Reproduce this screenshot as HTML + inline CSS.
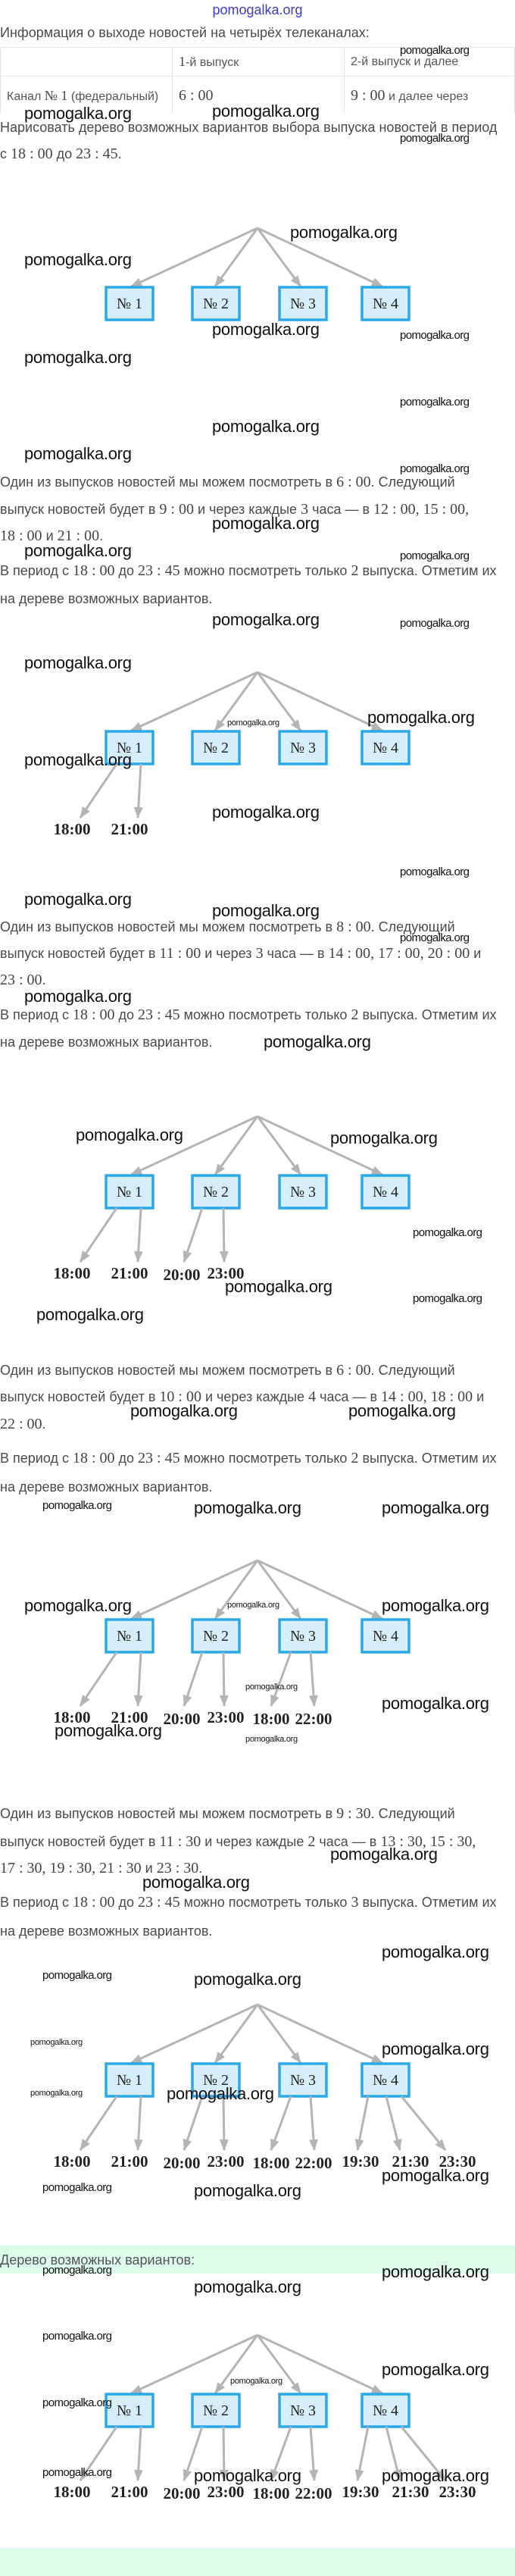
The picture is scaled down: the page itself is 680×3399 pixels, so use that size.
<!DOCTYPE html>
<html><head><meta charset="utf-8">
<style>
body{margin:0;width:680px;height:3399px;position:relative;background:#fff;overflow:hidden;font-family:"Liberation Sans",sans-serif}
.l{position:absolute;left:0;white-space:nowrap;height:24px;line-height:24px;font-size:18px;color:#4a4a4a}
.m{font-family:"Liberation Serif",serif;font-size:20px;color:#444}
.wl{position:absolute;white-space:nowrap;font-size:22px;line-height:26px;height:26px;color:#111;font-family:"Liberation Sans Narrow","Liberation Sans",sans-serif;letter-spacing:-0.3px}
.ws{position:absolute;white-space:nowrap;font-size:15px;line-height:18px;height:18px;color:#111;font-family:"Liberation Sans Narrow","Liberation Sans",sans-serif;letter-spacing:-0.6px}
.wt{position:absolute;white-space:nowrap;font-size:11px;line-height:14px;height:14px;color:#111;font-family:"Liberation Sans Narrow","Liberation Sans",sans-serif;letter-spacing:-0.3px}
table{position:absolute;left:0;top:62px;border-collapse:collapse;width:680px;font-size:16px;color:#555}
td{border:1px solid #e6e6e6;padding:0 8px;height:37px}
.green{position:absolute;left:0;width:680px;background:#dcfbe9}
svg{position:absolute;left:0;top:0}
</style></head><body>

<div style="position:absolute;left:0;width:680px;top:2px;text-align:center;color:#3a3ad0;font-size:18px;line-height:22px">pomogalka.org</div>

<div class="l" style="top:31px">Информация о выходе новостей на четырёх телеканалах:</div>
<div style="position:absolute;left:0;top:62px;width:680px;height:88px;overflow:hidden">
<table style="top:0">
<tr><td style="width:210px"></td><td style="width:210px"><span class="m" style="font-size:18px">1</span>-й выпуск</td><td>2-й выпуск и далее</td></tr>
<tr><td style="height:50px;vertical-align:top;padding-top:10px;line-height:30px">Канал <span class="m" style="font-size:18px">№ 1</span> (федеральный)</td><td style="height:50px;vertical-align:top;padding-top:10px;line-height:30px"><span class="m">6 : 00</span></td><td style="height:50px;vertical-align:top;padding-top:10px;line-height:30px"><span class="m">9 : 00</span> и далее через<br>каждые 3 часа</td></tr>
</table></div>

<div class="l" style="top:156px">Нарисовать дерево возможных вариантов выбора выпуска новостей в период</div>
<div class="l" style="top:191px">с <span class="m">18 : 00</span> до <span class="m">23 : 45</span>.</div>

<div class="l" style="top:624px">Один из выпусков новостей мы можем посмотреть в <span class="m">6 : 00</span>. Следующий</div>
<div class="l" style="top:660px">выпуск новостей будет в <span class="m">9 : 00</span> и через каждые <span class="m">3</span> часа — в <span class="m">12 : 00, 15 : 00,</span></div>
<div class="l" style="top:695px"><span class="m">18 : 00</span> и <span class="m">21 : 00</span>.</div>
<div class="l" style="top:741px">В период с <span class="m">18 : 00</span> до <span class="m">23 : 45</span> можно посмотреть только <span class="m">2</span> выпуска. Отметим их</div>
<div class="l" style="top:778px">на дереве возможных вариантов.</div>

<div class="l" style="top:1211px">Один из выпусков новостей мы можем посмотреть в <span class="m">8 : 00</span>. Следующий</div>
<div class="l" style="top:1246px">выпуск новостей будет в <span class="m">11 : 00</span> и через <span class="m">3</span> часа — в <span class="m">14 : 00, 17 : 00, 20 : 00</span> и</div>
<div class="l" style="top:1281px"><span class="m">23 : 00</span>.</div>
<div class="l" style="top:1327px">В период с <span class="m">18 : 00</span> до <span class="m">23 : 45</span> можно посмотреть только <span class="m">2</span> выпуска. Отметим их</div>
<div class="l" style="top:1363px">на дереве возможных вариантов.</div>

<div class="l" style="top:1796px">Один из выпусков новостей мы можем посмотреть в <span class="m">6 : 00</span>. Следующий</div>
<div class="l" style="top:1831px">выпуск новостей будет в <span class="m">10 : 00</span> и через каждые <span class="m">4</span> часа — в <span class="m">14 : 00, 18 : 00</span> и</div>
<div class="l" style="top:1867px"><span class="m">22 : 00</span>.</div>
<div class="l" style="top:1912px">В период с <span class="m">18 : 00</span> до <span class="m">23 : 45</span> можно посмотреть только <span class="m">2</span> выпуска. Отметим их</div>
<div class="l" style="top:1950px">на дереве возможных вариантов.</div>

<div class="l" style="top:2381px">Один из выпусков новостей мы можем посмотреть в <span class="m">9 : 30</span>. Следующий</div>
<div class="l" style="top:2418px">выпуск новостей будет в <span class="m">11 : 30</span> и через каждые <span class="m">2</span> часа — в <span class="m">13 : 30, 15 : 30,</span></div>
<div class="l" style="top:2453px"><span class="m">17 : 30, 19 : 30, 21 : 30</span> и <span class="m">23 : 30</span>.</div>
<div class="l" style="top:2498px">В период с <span class="m">18 : 00</span> до <span class="m">23 : 45</span> можно посмотреть только <span class="m">3</span> выпуска. Отметим их</div>
<div class="l" style="top:2536px">на дереве возможных вариантов.</div>

<div class="green" style="top:2963px;height:37px"></div>
<div class="l" style="top:2970px;color:#555">Дерево возможных вариантов:</div>
<div class="green" style="top:3362px;height:37px"></div>

<svg width="680" height="3399" viewBox="0 0 680 3399">
<defs>
<marker id="a" markerUnits="userSpaceOnUse" markerWidth="16" markerHeight="12" refX="14" refY="6" orient="auto"><path d="M0,0 L15,6 L0,12 z" fill="#b4b4b4"/></marker>
<g id="root">
<g stroke="#b4b4b4" stroke-width="3" marker-end="url(#a)">
<line x1="340" y1="0" x2="173" y2="77"/><line x1="340" y1="0" x2="284" y2="77"/>
<line x1="340" y1="0" x2="397" y2="77"/><line x1="340" y1="0" x2="505" y2="77"/>
</g>
<g fill="#d6eefa" stroke="#2aa9e6" stroke-width="3.5">
<rect x="140" y="78" width="62" height="43"/><rect x="254" y="78" width="62" height="43"/>
<rect x="369" y="78" width="62" height="43"/><rect x="478" y="78" width="62" height="43"/>
</g>
<g font-family="Liberation Serif,serif" font-size="20" fill="#222" text-anchor="middle">
<text x="171" y="106">№ 1</text><text x="285" y="106">№ 2</text><text x="400" y="106">№ 3</text><text x="509" y="106">№ 4</text>
</g>
</g>
<g id="b1"><g stroke="#b4b4b4" stroke-width="3" marker-end="url(#a)"><line x1="154" y1="121" x2="106" y2="192"/><line x1="186" y1="121" x2="182" y2="192"/></g>
<g font-family="Liberation Serif,serif" font-weight="bold" font-size="21" fill="#222" text-anchor="middle"><text x="95" y="214">18:00</text><text x="171" y="214">21:00</text></g></g>
<g id="b2"><g stroke="#b4b4b4" stroke-width="3" marker-end="url(#a)"><line x1="267" y1="121" x2="243" y2="192"/><line x1="295" y1="121" x2="296" y2="192"/></g>
<g font-family="Liberation Serif,serif" font-weight="bold" font-size="21" fill="#222" text-anchor="middle"><text x="240" y="216">20:00</text><text x="298" y="214">23:00</text></g></g>
<g id="b3"><g stroke="#b4b4b4" stroke-width="3" marker-end="url(#a)"><line x1="384" y1="121" x2="358" y2="192"/><line x1="410" y1="121" x2="415" y2="192"/></g>
<g font-family="Liberation Serif,serif" font-weight="bold" font-size="21" fill="#222" text-anchor="middle"><text x="358" y="216">18:00</text><text x="414" y="216">22:00</text></g></g>
<g id="b4"><g stroke="#b4b4b4" stroke-width="3" marker-end="url(#a)"><line x1="486" y1="121" x2="472" y2="192"/><line x1="510" y1="121" x2="528" y2="192"/><line x1="530" y1="121" x2="588" y2="192"/></g>
<g font-family="Liberation Serif,serif" font-weight="bold" font-size="21" fill="#222" text-anchor="middle"><text x="476" y="214">19:30</text><text x="542" y="214">21:30</text><text x="604" y="214">23:30</text></g></g>
</defs>
<g transform="translate(0,301)"><use href="#root"/></g>
<g transform="translate(0,887)"><use href="#root"/><use href="#b1"/></g>
<g transform="translate(0,1473)"><use href="#root"/><use href="#b1"/><use href="#b2"/></g>
<g transform="translate(0,2059)"><use href="#root"/><use href="#b1"/><use href="#b2"/><use href="#b3"/></g>
<g transform="translate(0,2645)"><use href="#root"/><use href="#b1"/><use href="#b2"/><use href="#b3"/><use href="#b4"/></g>
<g transform="translate(0,3081)"><use href="#root"/><use href="#b1"/><use href="#b2"/><use href="#b3"/><use href="#b4"/></g>
</svg>

<div class="wl" style="left:32px;top:137px">pomogalka.org</div>
<div class="wl" style="left:280px;top:134px">pomogalka.org</div>
<div class="ws" style="left:528px;top:58px">pomogalka.org</div>
<div class="ws" style="left:528px;top:174px">pomogalka.org</div>
<div class="wl" style="left:383px;top:294px">pomogalka.org</div>
<div class="wl" style="left:32px;top:330px">pomogalka.org</div>
<div class="wl" style="left:280px;top:422px">pomogalka.org</div>
<div class="ws" style="left:528px;top:434px">pomogalka.org</div>
<div class="wl" style="left:32px;top:459px">pomogalka.org</div>
<div class="ws" style="left:528px;top:522px">pomogalka.org</div>
<div class="wl" style="left:280px;top:550px">pomogalka.org</div>
<div class="wl" style="left:32px;top:586px">pomogalka.org</div>
<div class="ws" style="left:528px;top:610px">pomogalka.org</div>
<div class="wl" style="left:280px;top:678px">pomogalka.org</div>
<div class="wl" style="left:32px;top:714px">pomogalka.org</div>
<div class="ws" style="left:528px;top:725px">pomogalka.org</div>
<div class="wl" style="left:280px;top:805px">pomogalka.org</div>
<div class="ws" style="left:528px;top:814px">pomogalka.org</div>
<div class="wl" style="left:32px;top:862px">pomogalka.org</div>
<div class="wl" style="left:485px;top:934px">pomogalka.org</div>
<div class="wt" style="left:300px;top:947px">pomogalka.org</div>
<div class="wl" style="left:32px;top:990px">pomogalka.org</div>
<div class="wl" style="left:280px;top:1059px">pomogalka.org</div>
<div class="ws" style="left:528px;top:1142px">pomogalka.org</div>
<div class="wl" style="left:32px;top:1174px">pomogalka.org</div>
<div class="wl" style="left:280px;top:1189px">pomogalka.org</div>
<div class="ws" style="left:528px;top:1229px">pomogalka.org</div>
<div class="wl" style="left:32px;top:1302px">pomogalka.org</div>
<div class="wl" style="left:348px;top:1362px">pomogalka.org</div>
<div class="wl" style="left:100px;top:1485px">pomogalka.org</div>
<div class="wl" style="left:436px;top:1489px">pomogalka.org</div>
<div class="ws" style="left:545px;top:1618px">pomogalka.org</div>
<div class="wl" style="left:297px;top:1685px">pomogalka.org</div>
<div class="ws" style="left:545px;top:1705px">pomogalka.org</div>
<div class="wl" style="left:48px;top:1722px">pomogalka.org</div>
<div class="wl" style="left:172px;top:1849px">pomogalka.org</div>
<div class="wl" style="left:460px;top:1849px">pomogalka.org</div>
<div class="ws" style="left:56px;top:1978px">pomogalka.org</div>
<div class="wl" style="left:256px;top:1977px">pomogalka.org</div>
<div class="wl" style="left:504px;top:1977px">pomogalka.org</div>
<div class="wl" style="left:32px;top:2106px">pomogalka.org</div>
<div class="wt" style="left:300px;top:2111px">pomogalka.org</div>
<div class="wl" style="left:504px;top:2106px">pomogalka.org</div>
<div class="wt" style="left:324px;top:2219px">pomogalka.org</div>
<div class="wl" style="left:504px;top:2235px">pomogalka.org</div>
<div class="wl" style="left:72px;top:2271px">pomogalka.org</div>
<div class="wt" style="left:324px;top:2288px">pomogalka.org</div>
<div class="wl" style="left:436px;top:2434px">pomogalka.org</div>
<div class="wl" style="left:188px;top:2471px">pomogalka.org</div>
<div class="wl" style="left:504px;top:2563px">pomogalka.org</div>
<div class="ws" style="left:56px;top:2598px">pomogalka.org</div>
<div class="wl" style="left:256px;top:2599px">pomogalka.org</div>
<div class="wt" style="left:40px;top:2688px">pomogalka.org</div>
<div class="wl" style="left:504px;top:2691px">pomogalka.org</div>
<div class="wl" style="left:220px;top:2750px">pomogalka.org</div>
<div class="wt" style="left:40px;top:2755px">pomogalka.org</div>
<div class="wl" style="left:504px;top:2858px">pomogalka.org</div>
<div class="ws" style="left:56px;top:2878px">pomogalka.org</div>
<div class="wl" style="left:256px;top:2878px">pomogalka.org</div>
<div class="ws" style="left:56px;top:2987px">pomogalka.org</div>
<div class="wl" style="left:504px;top:2985px">pomogalka.org</div>
<div class="wl" style="left:256px;top:3005px">pomogalka.org</div>
<div class="ws" style="left:56px;top:3074px">pomogalka.org</div>
<div class="wl" style="left:504px;top:3114px">pomogalka.org</div>
<div class="wt" style="left:304px;top:3135px">pomogalka.org</div>
<div class="ws" style="left:56px;top:3162px">pomogalka.org</div>
<div class="ws" style="left:56px;top:3254px">pomogalka.org</div>
<div class="wl" style="left:256px;top:3254px">pomogalka.org</div>
<div class="wl" style="left:504px;top:3254px">pomogalka.org</div>
</body></html>
